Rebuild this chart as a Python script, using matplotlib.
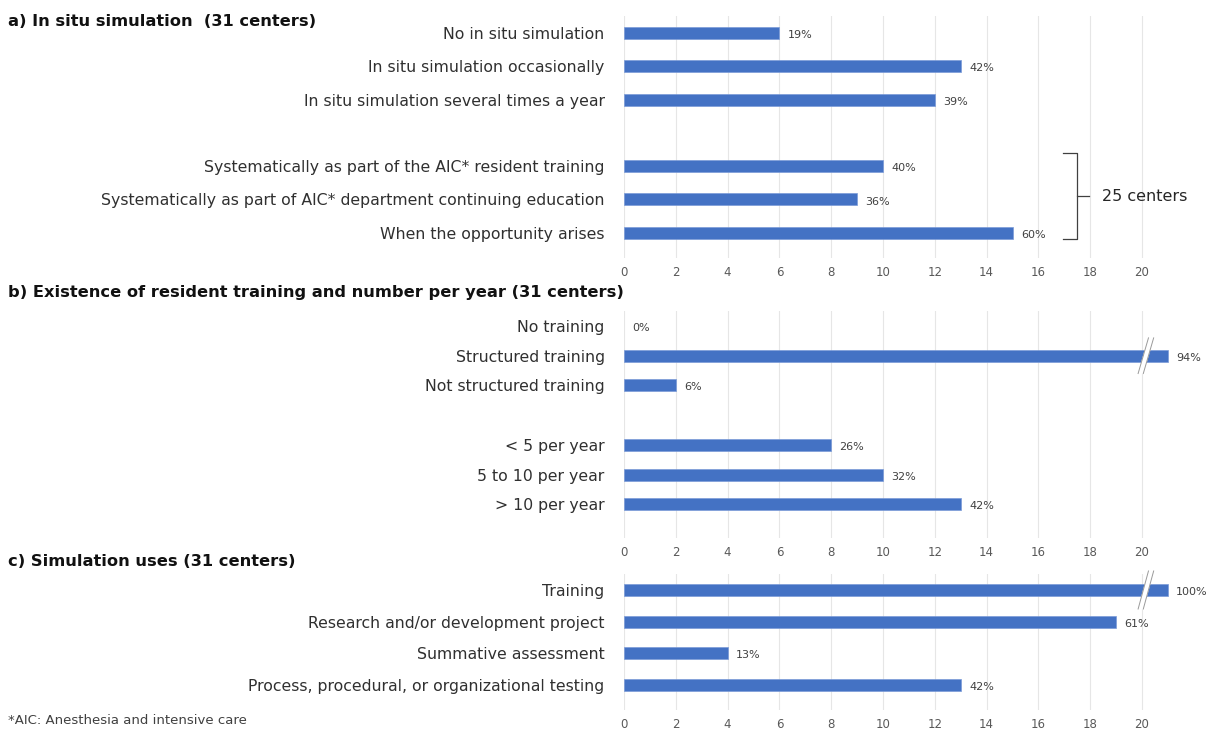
import matplotlib
matplotlib.use('Agg')
import matplotlib.pyplot as plt

plt.rcParams['font.family'] = ['DejaVu Sans']

# data (number of centers)
labels_a = ['No in situ simulation', 'In situ simulation occasionally', 'In situ simulation several times a year', '',
            'Systematically as part of the AIC* resident training',
            'Systematically as part of AIC* department continuing education',
            'When the opportunity arises']
values_a = [6, 13, 12, None, 10, 9, 15]
pct_a = ['19%', '42%', '39%', '', '40%', '36%', '60%']

labels_b = ['No training', 'Structured training', 'Not structured training', '',
            '< 5 per year', '5 to 10 per year', '> 10 per year']
values_b = [0, 29, 2, None, 8, 10, 13]
pct_b = ['0%', '94%', '6%', '', '26%', '32%', '42%']

labels_c = ['Training', 'Research and/or development project', 'Summative assessment',
            'Process, procedural, or organizational testing']
values_c = [31, 19, 4, 13]
pct_c = ['100%', '61%', '13%', '42%']

titles = ['a) In situ simulation  (31 centers)',
          'b) Existence of resident training and number per year (31 centers)',
          'c) Simulation uses (31 centers)']

W, H = 1214, 729
BLUE = '#4472C4'
CAP = 21      # bars longer than the axis are cut and drawn to this length
XMAX = 21.5

fig = plt.figure(figsize=(W / 100, H / 100), dpi=100)

# pixel layout of each panel: first bar y, slot spacing, axes bottom, title y
layout = [
    (33, 33.3, 258, 22),
    (326, 29.7, 538, 293),
    (590, 31.7, 710, 562),
]
x0_px = 624
unit_px = 25.9


def draw_panel(labels, values, pcts, title, lay):
    y0, step, bottom, ty = lay
    top = y0 - step / 2
    ax = fig.add_axes([x0_px / W, 1 - bottom / H, XMAX * unit_px / W, (bottom - top) / H])
    n = len(labels)
    ax.set_xlim(0, XMAX)
    ax.set_ylim((bottom - y0) / step, -0.5)
    h = 12 / step
    for i, v in enumerate(values):
        if v is None:
            continue
        shown = min(v, CAP)
        if v > 0:
            ax.barh(i, shown, height=h, color=BLUE, edgecolor='#7b9bd8', linewidth=0.5, zorder=3, clip_on=False)
        ax.annotate(pcts[i], (shown, i), xytext=(6, -1.5), textcoords='offset points',
                    ha='left', va='center', fontsize=8, color='#404040', annotation_clip=False)
        if v > CAP:
            # break mark on the cut bar
            bx = 20.15
            ax.plot([bx - 0.2, bx + 0.2], [i + 0.6, i - 0.6], color='white', lw=4, zorder=4,
                    solid_capstyle='butt', clip_on=False)
            for dx in (-0.1, 0.1):
                ax.plot([bx - 0.2 + dx, bx + 0.2 + dx], [i + 0.6, i - 0.6], color='#9a9a9a',
                        lw=0.7, zorder=5, clip_on=False)
    ax.set_yticks(range(n))
    ax.set_yticklabels(labels, fontsize=11.3, color='#303030')
    ax.set_xticks(range(0, 21, 2))
    ax.tick_params(axis='y', length=0, pad=14)
    ax.tick_params(axis='x', length=0, pad=6, labelsize=8.5, labelcolor='#595959')
    ax.grid(axis='x', color='#e6e6e6', lw=0.8, zorder=0)
    for s in ax.spines.values():
        s.set_visible(False)
    fig.text(8 / W, 1 - ty / H, title, fontsize=11.7, fontweight='bold', ha='left', va='center', color='#111111')
    return ax


ax_a = draw_panel(labels_a, values_a, pct_a, titles[0], layout[0])
draw_panel(labels_b, values_b, pct_b, titles[1], layout[1])
draw_panel(labels_c, values_c, pct_c, titles[2], layout[2])

# bracket for the 25 centers
bx, tip = 17.5, 17.95
ax_a.plot([bx - 0.55, bx, bx, tip], [3.6, 3.6, 4.9, 4.9], color='#404040', lw=0.9, clip_on=False)
ax_a.plot([bx, bx, bx - 0.55], [4.9, 6.2, 6.2], color='#404040', lw=0.9, clip_on=False)
ax_a.text(18.45, 4.9, '25 centers', fontsize=11.5, color='#262626', ha='left', va='center')

fig.text(8 / W, 1 - 720 / H, '*AIC: Anesthesia and intensive care', fontsize=9.5, color='#404040', ha='left', va='center')

fig.savefig('out.png', dpi=100)
